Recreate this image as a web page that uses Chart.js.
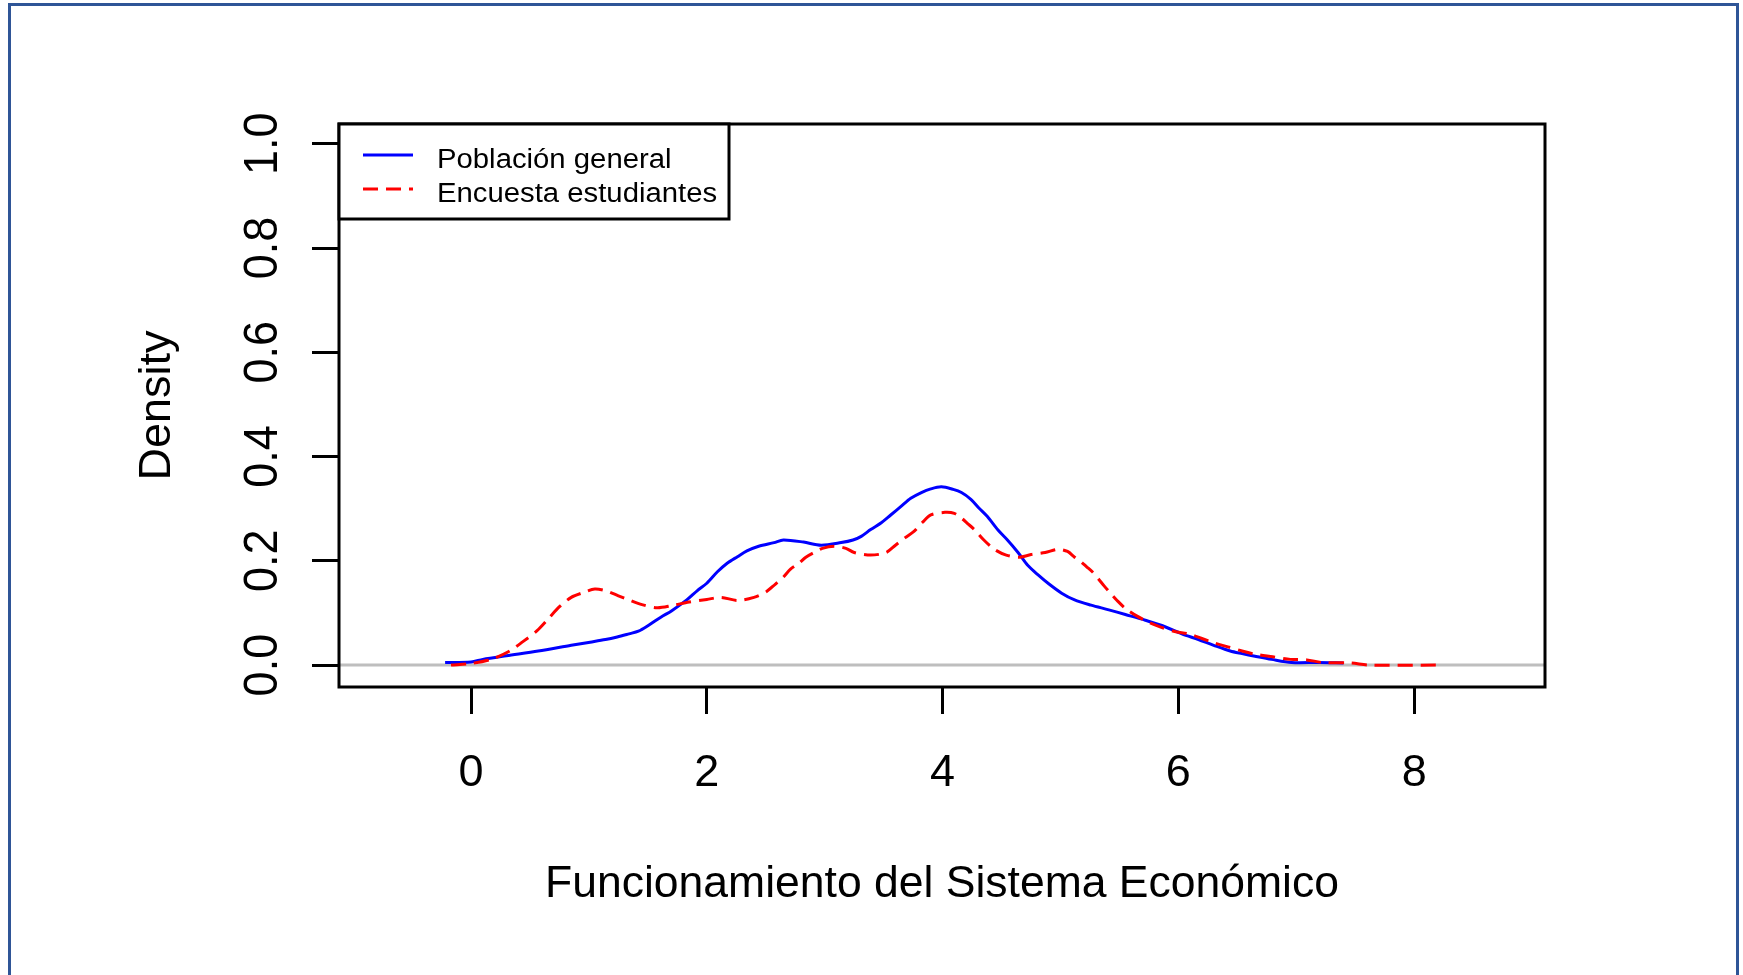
<!DOCTYPE html>
<html>
<head>
<meta charset="utf-8">
<script src="https://cdn.jsdelivr.net/npm/chart.js@4.4.1/dist/chart.umd.min.js"></script>
<style>
  html, body { margin: 0; padding: 0; background: #fff; overflow: hidden; }
  #frame { position: absolute; left: 8px; top: 3px; width: 1731px; height: 1000px; border: 3px solid #2f5597; box-sizing: border-box; }
  #wrap { position: absolute; left: 0; top: 0; width: 1743px; height: 975px; }
</style>
</head>
<body>
<div id="frame"></div>
<div id="wrap"><canvas id="densityChart" width="1743" height="975"></canvas></div>
<script>
// --- Data ---
const xTicks = [0, 2, 4, 6, 8];
const yTicks = [0, 0.2, 0.4, 0.6, 0.8, 1.0];
const xRange = [-1.12, 9.11];
const yRange = [-0.042, 1.038];
const seriesNames = ["Población general", "Encuesta estudiantes"];
const xTitle = "Funcionamiento del Sistema Económico";
const yTitle = "Density";

const poblacionX = [-0.22, 0.0, 0.1, 0.3, 0.57, 0.85, 1.01, 1.14, 1.24, 1.34,
  1.42, 1.51, 1.61, 1.70, 1.83, 1.92, 2.0, 2.09, 2.17, 2.26,
  2.34, 2.44, 2.57, 2.65, 2.82, 2.97, 3.14, 3.24, 3.31, 3.39,
  3.48, 3.56, 3.65, 3.73, 3.82, 3.90, 3.99, 4.09, 4.16, 4.24,
  4.31, 4.38, 4.47, 4.55, 4.64, 4.72, 4.81, 4.90, 5.01, 5.12,
  5.26, 5.41, 5.55, 5.72, 5.86, 6.03, 6.17, 6.30, 6.44, 6.54,
  6.65, 6.79, 6.96, 7.19, 7.40];
const poblacionY = [0.005, 0.006, 0.011, 0.018, 0.027, 0.038, 0.044, 0.049, 0.054, 0.060,
  0.065, 0.077, 0.092, 0.104, 0.125, 0.143, 0.157, 0.179, 0.195, 0.208,
  0.219, 0.228, 0.235, 0.240, 0.236, 0.230, 0.235, 0.240, 0.247, 0.260,
  0.273, 0.288, 0.305, 0.320, 0.331, 0.338, 0.342, 0.337, 0.331, 0.318,
  0.301, 0.285, 0.259, 0.240, 0.216, 0.192, 0.173, 0.156, 0.138, 0.125,
  0.115, 0.106, 0.097, 0.086, 0.076, 0.060, 0.049, 0.038, 0.027, 0.022,
  0.017, 0.011, 0.005, 0.005, 0.004];

const encuestaX = [-0.17, 0.0, 0.17, 0.32, 0.44, 0.56, 0.66, 0.75, 0.85, 0.95,
  1.05, 1.15, 1.25, 1.34, 1.45, 1.58, 1.70, 1.85, 2.0, 2.12,
  2.26, 2.40, 2.50, 2.58, 2.65, 2.71, 2.78, 2.84, 2.91, 2.98,
  3.08, 3.18, 3.25, 3.39, 3.52, 3.60, 3.68, 3.76, 3.83, 3.90,
  4.02, 4.10, 4.16, 4.21, 4.27, 4.35, 4.44, 4.54, 4.65, 4.75,
  4.87, 4.98, 5.06, 5.12, 5.17, 5.22, 5.27, 5.32, 5.37, 5.42,
  5.48, 5.55, 5.65, 5.75, 5.85, 5.96, 6.10, 6.20, 6.30, 6.42,
  6.54, 6.65, 6.80, 6.95, 7.09, 7.22, 7.46, 7.62, 8.20];
const encuestaY = [0.0, 0.003, 0.011, 0.026, 0.045, 0.066, 0.090, 0.112, 0.130, 0.139,
  0.146, 0.142, 0.133, 0.125, 0.116, 0.110, 0.114, 0.121, 0.126, 0.130,
  0.124, 0.130, 0.140, 0.155, 0.169, 0.184, 0.195, 0.207, 0.216, 0.224,
  0.228, 0.224, 0.216, 0.211, 0.216, 0.230, 0.244, 0.257, 0.274, 0.288,
  0.293, 0.291, 0.282, 0.272, 0.260, 0.240, 0.222, 0.211, 0.207, 0.212,
  0.216, 0.222, 0.218, 0.207, 0.199, 0.189, 0.179, 0.166, 0.152, 0.139,
  0.124, 0.109, 0.094, 0.082, 0.073, 0.065, 0.059, 0.051, 0.043, 0.035,
  0.027, 0.021, 0.016, 0.011, 0.010, 0.005, 0.004, 0.0, 0.0];

const BLUE = "#0000ff", RED = "#ff0000", GRAY = "#bebebe";
const FONT = '"Liberation Sans", Arial, sans-serif';

const toPoints = (xs, ys) => xs.map((x, i) => ({ x: x, y: ys[i] }));

// --- Box, labels, titles and legend drawn R-style ---
const rFrame = {
  id: "rFrame",
  afterDatasetsDraw(chart) {
    const { ctx, chartArea: a, scales } = chart;
    const xs = scales.x, ys = scales.y;
    ctx.save();
    ctx.strokeStyle = "#000"; ctx.lineWidth = 3;
    ctx.strokeRect(a.left, a.top, a.right - a.left, a.bottom - a.top);

    ctx.fillStyle = "#000";
    ctx.font = "45px " + FONT;
    ctx.textAlign = "center"; ctx.textBaseline = "alphabetic";
    xTicks.forEach(v => ctx.fillText(String(v), xs.getPixelForValue(v), a.bottom + 99));
    yTicks.forEach(v => {
      ctx.save();
      ctx.translate(a.left - 62, ys.getPixelForValue(v));
      ctx.rotate(-Math.PI / 2);
      ctx.scale(1, 1.08);
      ctx.fillText(v.toFixed(1), 0, 0);
      ctx.restore();
    });

    // axis titles
    ctx.font = "44.5px " + FONT;
    ctx.fillText(xTitle, (a.left + a.right) / 2, a.bottom + 210);
    ctx.save();
    ctx.translate(a.left - 169, (a.top + a.bottom) / 2);
    ctx.rotate(-Math.PI / 2);
    ctx.font = "45px " + FONT;
    ctx.fillText(yTitle, 0, 0);
    ctx.restore();

    // legend
    const lx = a.left, ly = a.top, lw = 390, lh = 95;
    ctx.fillStyle = "#fff";
    ctx.fillRect(lx, ly, lw, lh);
    ctx.strokeRect(lx, ly, lw, lh);
    const rows = [{ c: BLUE, dash: [] }, { c: RED, dash: [15, 8] }];
    ctx.font = "27px " + FONT;
    ctx.textAlign = "left";
    rows.forEach((r, i) => {
      const yy = ly + 31 + i * 34;
      ctx.strokeStyle = r.c; ctx.setLineDash(r.dash); ctx.lineWidth = 3;
      ctx.beginPath(); ctx.moveTo(lx + 24, yy); ctx.lineTo(lx + 74, yy); ctx.stroke();
      ctx.fillStyle = "#000";
      ctx.save();
      ctx.translate(lx + 98, yy + 13);
      ctx.scale(1.085, 1);
      ctx.fillText(seriesNames[i], 0, 0);
      ctx.restore();
    });
    ctx.restore();
  }
};

new Chart(document.getElementById("densityChart"), {
  type: "line",
  data: {
    datasets: [
      { label: seriesNames[1], data: toPoints(encuestaX, encuestaY), borderColor: RED, borderWidth: 3,
        borderDash: [15, 8], pointRadius: 0, tension: 0.3, order: 0 },
      { label: seriesNames[0], data: toPoints(poblacionX, poblacionY), borderColor: BLUE, borderWidth: 3,
        pointRadius: 0, tension: 0.3, order: 1 },
      { label: "baseline", data: toPoints(xRange, [0, 0]), borderColor: GRAY, borderWidth: 3,
        pointRadius: 0, order: 2 }
    ]
  },
  options: {
    responsive: false,
    animation: false,
    devicePixelRatio: 1,
    layout: { padding: { left: 0, top: 124, right: 198, bottom: 0 } },
    plugins: { legend: { display: false }, tooltip: { enabled: false } },
    scales: {
      x: {
        type: "linear", min: xRange[0], max: xRange[1],
        afterBuildTicks: s => { s.ticks = xTicks.map(v => ({ value: v })); },
        afterFit: s => { s.height = 288; },
        ticks: { display: false },
        border: { display: false },
        grid: { drawOnChartArea: false, drawTicks: true, tickLength: 27, lineWidth: 3, color: "#000", tickColor: "#000" }
      },
      y: {
        type: "linear", min: yRange[0], max: yRange[1],
        afterBuildTicks: s => { s.ticks = yTicks.map(v => ({ value: v })); },
        afterFit: s => { s.width = 339; },
        ticks: { display: false },
        border: { display: false },
        grid: { drawOnChartArea: false, drawTicks: true, tickLength: 27, lineWidth: 3, color: "#000", tickColor: "#000" }
      }
    }
  },
  plugins: [rFrame]
});
</script>
</body>
</html>
